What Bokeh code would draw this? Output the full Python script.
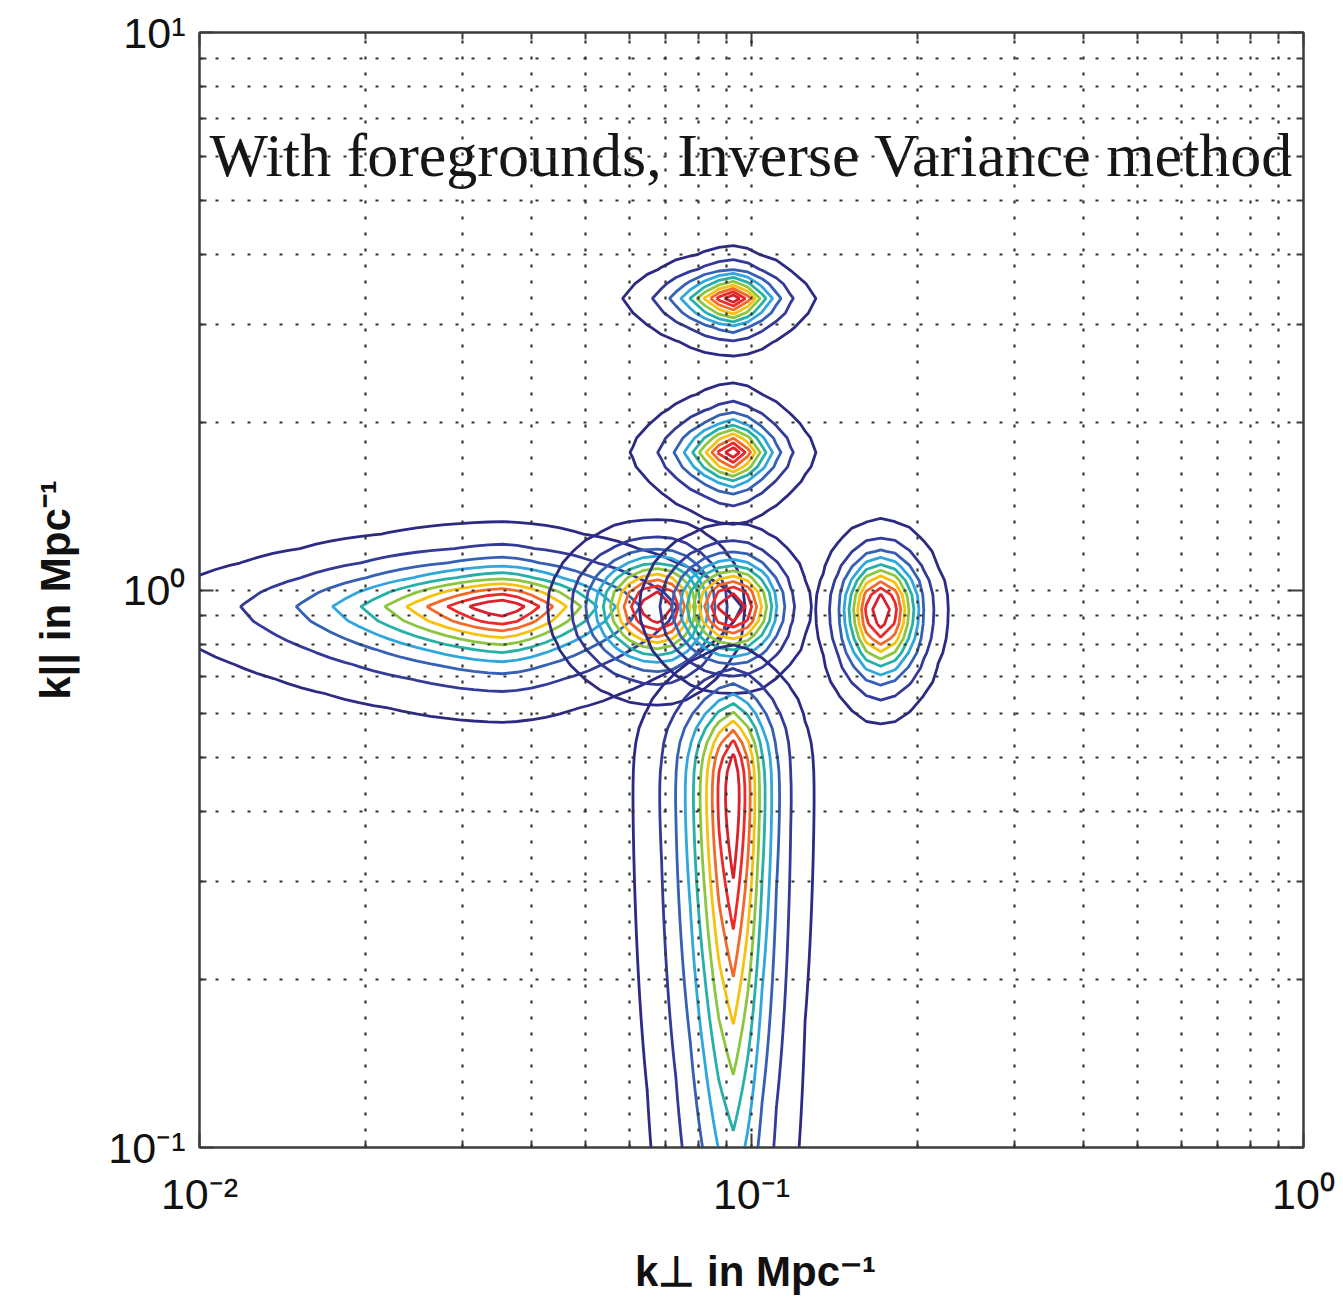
import numpy as np
from bokeh.plotting import figure
from bokeh.models import FixedTicker, LogAxis, Label, CustomJSTickFormatter
from bokeh.embed import file_html
from bokeh.resources import INLINE

# ---------------- axis data ----------------
x_limits = [0.01, 1.0]
y_limits = [0.1, 10.0]
x_major_ticks = [0.01, 0.1, 1.0]
y_major_ticks = [0.1, 1.0, 10.0]
x_tick_exponents = ["-2", "-1", "0"]
y_tick_exponents = ["-1", "0", "1"]
x_minor_ticks = [0.02, 0.03, 0.04, 0.05, 0.06, 0.07, 0.08, 0.09,
                 0.2, 0.3, 0.4, 0.5, 0.6, 0.7, 0.8, 0.9]
y_minor_ticks = [0.2, 0.3, 0.4, 0.5, 0.6, 0.7, 0.8, 0.9,
                 2, 3, 4, 5, 6, 7, 8, 9]

x_axis_title = "k\u22a5 in Mpc\u207b\u00b9"
y_axis_title = "k|| in Mpc\u207b\u00b9"
title_text = "With foregrounds, Inverse Variance method"

# ---------------- window-function blobs ----------------
# peak position in k_perp / k_par (Mpc^-1)
blob_k_perp = [0.0354, 0.0676, 0.0927, 0.0927, 0.1714, 0.0927, 0.0927]
blob_k_par = [0.934, 0.934, 0.934, 0.419, 0.923, 1.765, 3.334]
# widths in decades of log10 k
blob_w_left = [0.272, 0.1025, 0.0871, 0.0761, 0.059, 0.0779, 0.0833]
blob_w_right = [0.181, 0.082, 0.0717, 0.060, 0.0615, 0.0616, 0.0616]
blob_w_up = [0.063, 0.081, 0.0761, 0.179, 0.0837, 0.0511, 0.0377]
blob_w_down = [0.087, 0.091, 0.0812, 0.628, 0.1065, 0.0538, 0.0430]
# profile exponents
blob_shape_x = [1.5, 2.0, 2.0, 1.5, 2.0, 1.5, 1.5]
blob_shape_up = [1.5, 2.0, 2.0, 3.0, 2.0, 1.5, 1.5]
blob_shape_down = [1.5, 2.0, 2.0, 1.5, 2.0, 1.5, 1.5]

contour_levels = [0.025, 0.1, 0.2, 0.3, 0.4, 0.5, 0.6, 0.7, 0.8, 0.9]
level_colors = ["#2d2a84", "#333a98", "#3560b4", "#2fa6dc", "#26b0a8",
                "#8cc63f", "#f6c20f", "#f26a2a", "#ec2a2a", "#d9202c"]

GRID_STEP = 0.026

SUP = {"-": "\u207b", "0": "\u2070", "1": "\u00b9", "2": "\u00b2"}
x_tick_labels = ["10" + "".join(SUP[c] for c in e) for e in x_tick_exponents]
y_tick_labels = ["10" + "".join(SUP[c] for c in e) for e in y_tick_exponents]

# ---------------- figure ----------------
p = figure(x_axis_type="log", y_axis_type="log",
           x_range=tuple(x_limits), y_range=tuple(y_limits),
           frame_width=1104, frame_height=1115,
           min_border_left=199, min_border_right=40,
           min_border_top=32, min_border_bottom=160,
           output_backend="svg", toolbar_location=None,
           background_fill_color="white", border_fill_color="white")

p.outline_line_color = "#3c3c3c"
p.outline_line_width = 2

blank = CustomJSTickFormatter(code="return ''")

def make_formatter(tvals, tlabels):
    return CustomJSTickFormatter(args=dict(tvals=tvals, tlabels=tlabels), code="""
        for (let i = 0; i < tvals.length; i++) {
            if (Math.abs(Math.log10(tvals[i]) - Math.log10(tick)) < 1e-6) return tlabels[i];
        }
        return '';
    """)

def style_axis(ax, major, minor):
    ax.ticker = FixedTicker(ticks=major, minor_ticks=minor)
    ax.major_tick_in = 14
    ax.major_tick_out = 0
    ax.minor_tick_in = 7
    ax.minor_tick_out = 0
    ax.major_tick_line_color = "#3c3c3c"
    ax.minor_tick_line_color = "#3c3c3c"
    ax.major_tick_line_width = 2
    ax.minor_tick_line_width = 2
    ax.axis_line_color = "#3c3c3c"
    ax.axis_line_width = 2
    ax.major_label_text_font = "Liberation Sans"
    ax.major_label_text_font_size = "43px"
    ax.major_label_text_color = "#111111"
    ax.axis_label_text_font = "Liberation Sans"
    ax.axis_label_text_font_style = "bold"
    ax.axis_label_text_font_size = "42px"
    ax.axis_label_text_color = "#111111"

xa = p.xaxis[0]
ya = p.yaxis[0]
style_axis(xa, x_major_ticks, x_minor_ticks)
style_axis(ya, y_major_ticks, y_minor_ticks)
xa.formatter = make_formatter(x_major_ticks, x_tick_labels)
ya.formatter = make_formatter(y_major_ticks, y_tick_labels)
xa.major_label_standoff = 22
ya.major_label_standoff = 14
xa.axis_label = x_axis_title
ya.axis_label = y_axis_title
xa.axis_label_standoff = 27
ya.axis_label_standoff = 26

top_axis = LogAxis()
right_axis = LogAxis()
for ax, major, minor in ((top_axis, x_major_ticks, x_minor_ticks),
                         (right_axis, y_major_ticks, y_minor_ticks)):
    style_axis(ax, major, minor)
    ax.formatter = blank
    ax.major_label_text_font_size = "1px"
p.add_layout(top_axis, "above")
p.add_layout(right_axis, "right")

for g, major, minor in ((p.xgrid[0], x_major_ticks, x_minor_ticks),
                        (p.ygrid[0], y_major_ticks, y_minor_ticks)):
    g.ticker = FixedTicker(ticks=major, minor_ticks=minor)
    g.grid_line_color = "#333333"
    g.grid_line_width = 2.2
    g.grid_line_dash = "3 13"
    g.minor_grid_line_color = "#333333"
    g.minor_grid_line_width = 2.2
    g.minor_grid_line_dash = "3 13"
    g.level = "overlay"

# ---------------- contours ----------------
for i in range(len(blob_k_perp)):
    u0 = np.log10(blob_k_perp[i])
    v0 = np.log10(blob_k_par[i])
    u = u0 + GRID_STEP * np.arange(-140, 141)
    v = v0 + GRID_STEP * np.arange(-140, 141)
    u = u[(u > -2.4) & (u < 0.3)]
    v = v[(v > -1.5) & (v < 1.3)]
    U, V = np.meshgrid(u, v)
    du = U - u0
    dv = V - v0
    sx = np.where(du < 0, blob_w_left[i], blob_w_right[i])
    sy = np.where(dv < 0, blob_w_down[i], blob_w_up[i])
    py = np.where(dv < 0, blob_shape_down[i], blob_shape_up[i])
    Z = np.exp(-(np.abs(du) / sx) ** blob_shape_x[i] - (np.abs(dv) / sy) ** py)
    p.contour(x=10 ** u, y=10 ** v, z=Z, levels=contour_levels,
              line_color=level_colors, line_width=2.8)

# ---------------- in-plot text ----------------
p.add_layout(Label(x=0.1, y=6.02, text=title_text, text_align="center",
                   text_baseline="alphabetic", text_font="Liberation Serif",
                   text_font_size="62px", text_color="#161616"))

open("out.html", "w").write(file_html(p, INLINE))
